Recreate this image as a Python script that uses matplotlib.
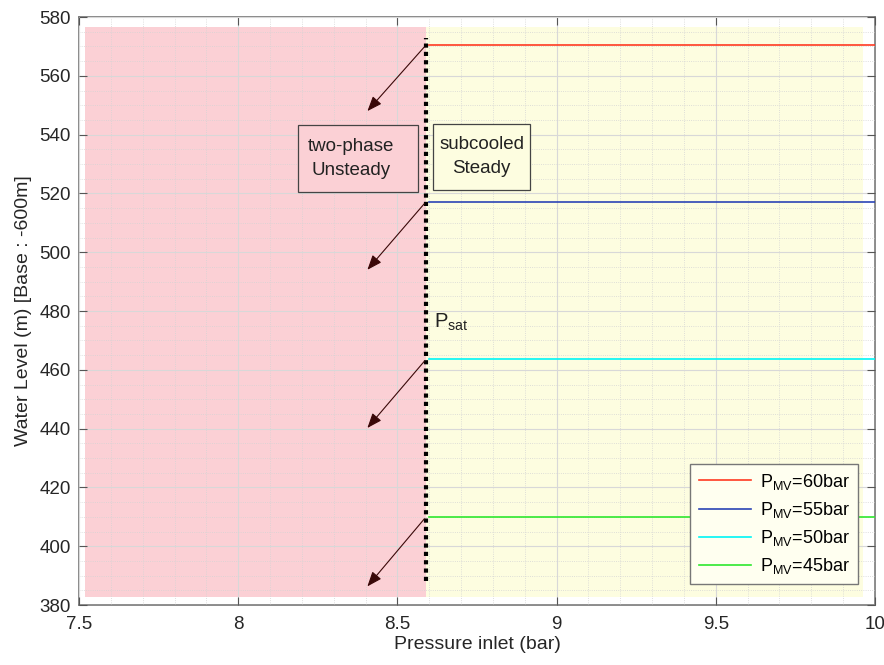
import numpy as np
import matplotlib.pyplot as plt
from matplotlib.patches import Rectangle
from matplotlib.ticker import MultipleLocator

plt.rcParams['font.family'] = ['Liberation Sans', 'DejaVu Sans']
plt.rcParams['mathtext.default'] = 'regular'

# levels at the four motor valve pressures
p_sat = 8.59
levels = [570.5, 517.2, 463.6, 410.0]
labels = ['P$_{MV}$=60bar', 'P$_{MV}$=55bar', 'P$_{MV}$=50bar', 'P$_{MV}$=45bar']
colors = ['#ff3a22', '#2b44b5', '#00f5f5', '#2ee82e']
arrow_ends = [547.3, 493.3, 439.5, 385.6]
arrow_x = 8.40

fig = plt.figure(figsize=(8.84, 6.65), dpi=100)
ax = fig.add_axes([0.0894, 0.0902, 0.9004, 0.8842])

# shaded regimes
ax.fill_between([7.52, p_sat], 382.7, 576.6, color='#fbd0d5', lw=0, zorder=0)
ax.fill_between([p_sat, 9.962], 382.7, 576.6, color='#fdfde0', lw=0, zorder=0)

for y, lab, c in zip(levels, labels, colors):
    ax.plot([p_sat + 0.01, 10], [y, y], color=c, lw=1.2, label=lab, zorder=3)

ax.plot([p_sat, p_sat], [388, 573], color='black', lw=3, ls=(0, (1, 1)), zorder=4)

for y0, y1 in zip(levels, arrow_ends):
    ax.annotate('', xy=(arrow_x, y1), xytext=(p_sat, y0),
                arrowprops=dict(arrowstyle='-|>,head_length=0.9,head_width=0.35',
                                color='#3a0808', lw=0.8), zorder=5)

ax.add_patch(Rectangle((8.189, 520.5), 0.377, 22.8, fc='#fbd0d5', ec='#444444',
                       lw=0.9, zorder=5))
ax.add_patch(Rectangle((8.613, 521.2), 0.305, 22.4, fc='#fdfde0', ec='#444444',
                       lw=0.9, zorder=5))
ax.text(8.355, 531.8, 'two-phase\nUnsteady', ha='center', va='center', fontsize=13.5,
        color='#222222', linespacing=1.55, zorder=6)
ax.text(8.765, 532.6, 'subcooled\nSteady', ha='center', va='center', fontsize=13.5,
        color='#222222', linespacing=1.55, zorder=6)
ax.text(8.615, 476, 'P$_{sat}$', fontsize=14.5, color='#222222', va='center')

ax.set_xlim(7.5, 10)
ax.set_ylim(380, 580)
ax.xaxis.set_major_locator(MultipleLocator(0.5))
ax.xaxis.set_minor_locator(MultipleLocator(0.1))
ax.yaxis.set_major_locator(MultipleLocator(20))
ax.yaxis.set_minor_locator(MultipleLocator(5))
ax.set_xticks([7.5, 8, 8.5, 9, 9.5, 10])
ax.set_xticklabels(['7.5', '8', '8.5', '9', '9.5', '10'])
ax.grid(which='major', color='#d8d8d8', lw=0.8, zorder=1)
ax.grid(which='minor', color='#d4d4d4', lw=0.6, ls=':', zorder=1)
ax.set_axisbelow(False)
ax.tick_params(which='major', direction='in', top=True, right=True, length=6,
               color='#555555', labelsize=13.5, labelcolor='#262626')
ax.tick_params(axis='x', which='major', pad=8)
ax.tick_params(axis='y', which='major', pad=6)
ax.tick_params(which='minor', length=0)
for s in ax.spines.values():
    s.set_color('#777777')
    s.set_linewidth(1.2)

ax.set_xlabel('Pressure inlet (bar)', fontsize=14, color='#262626', labelpad=2)
ax.set_ylabel('Water Level (m) [Base : -600m]', fontsize=14, color='#262626', labelpad=5)

leg = ax.legend(loc='lower right', bbox_to_anchor=(0.99, 0.02), fontsize=13,
                fancybox=False, framealpha=1, handlelength=2.9, borderpad=0.45,
                labelspacing=0.45, handletextpad=0.5)
leg.get_frame().set_facecolor('#fffff0')
leg.get_frame().set_edgecolor('#777777')

fig.savefig('out.png', dpi=100)
